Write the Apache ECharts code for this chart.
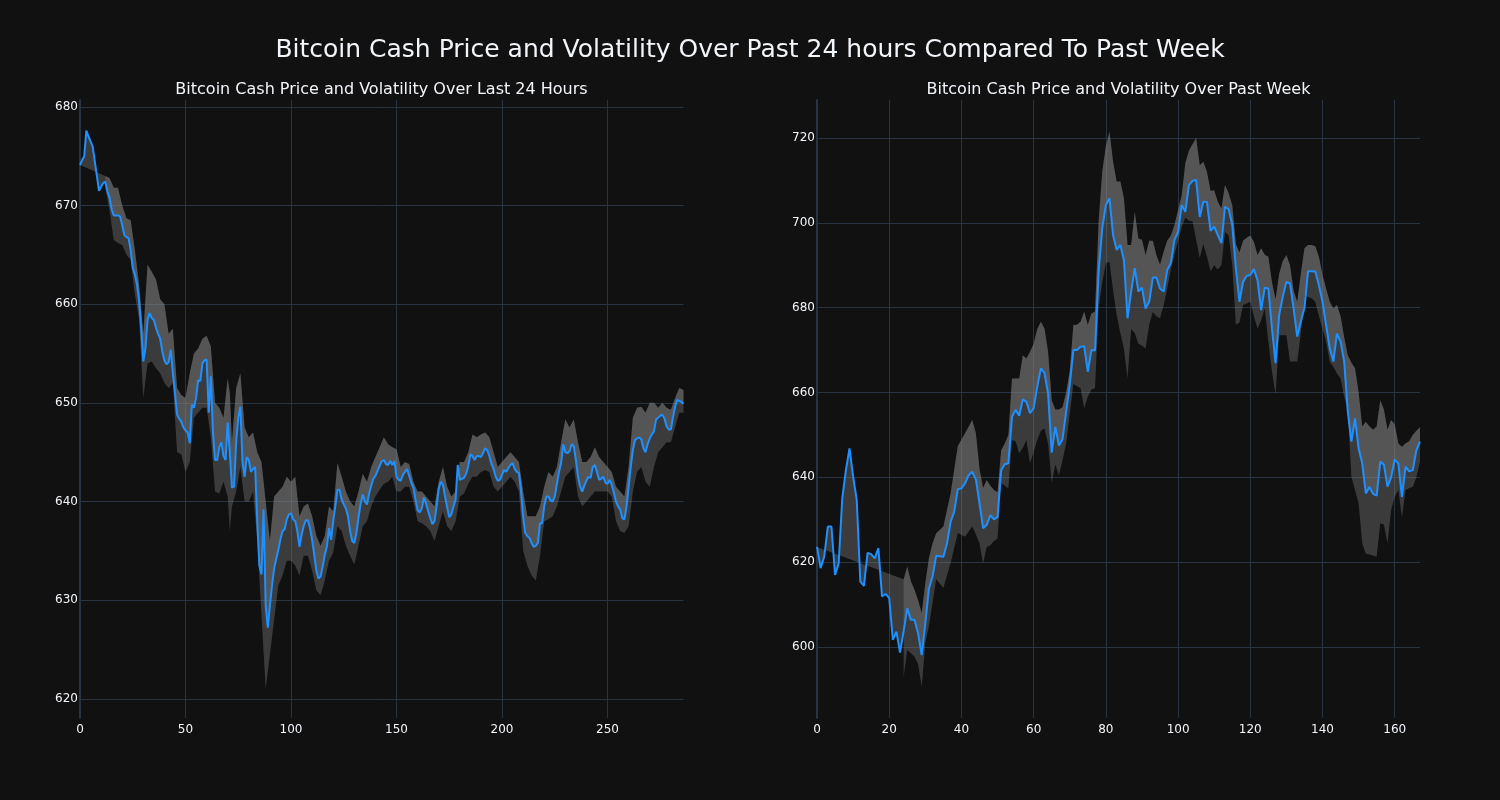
<!DOCTYPE html>
<html>
<head>
<meta charset="utf-8">
<script src="https://cdn.jsdelivr.net/npm/echarts@6/dist/echarts.min.js"></script>
<style>
html,body{margin:0;padding:0;background:#111111;}
#chart{width:1500px;height:800px;}
</style>
</head>
<body>
<div id="chart"></div>
<script>
// ---------- DATA ----------
const mainTitle = 'Bitcoin Cash Price and Volatility Over Past 24 hours Compared To Past Week';
const leftTitle = 'Bitcoin Cash Price and Volatility Over Last 24 Hours';
const rightTitle = 'Bitcoin Cash Price and Volatility Over Past Week';

// Last 24 hours: price at each step (x = 0..286)
const dayPrice = [
674.1,674.6,675.0,677.6,677.0,676.5,676.0,674.5,673.0,671.5,
671.9,672.3,672.4,671.4,670.8,669.6,669.0,669.0,669.0,668.9,
668.0,667.0,666.8,666.7,665.5,663.7,663.0,662.0,660.3,657.5,
654.2,655.5,658.4,659.1,658.6,658.4,657.6,657.0,656.5,655.2,
654.3,653.9,654.1,655.4,653.0,651.0,648.8,648.4,648.1,647.5,
647.2,647.0,645.9,649.8,649.5,650.5,652.3,652.2,654.0,654.3,
654.4,649.0,652.7,647.0,644.2,644.2,645.5,646.0,644.6,644.2,
648.0,645.0,641.4,641.5,646.0,648.5,649.6,644.0,642.5,644.5,
644.2,643.0,643.3,643.5,638.0,633.5,632.6,639.2,629.4,627.2,
629.5,631.5,633.2,634.2,635.1,636.2,637.0,637.2,638.2,638.7,
638.8,638.2,638.0,637.0,635.4,636.6,637.5,638.1,638.1,637.3,
636.1,634.6,633.0,632.2,632.4,633.4,634.6,635.4,637.3,636.1,
638.0,639.5,641.2,641.2,640.2,639.7,639.3,638.5,637.0,636.0,
635.8,636.8,638.4,639.8,640.7,640.0,639.7,640.8,641.6,642.3,
642.6,643.1,643.6,644.1,644.2,643.8,643.7,644.1,643.7,644.1,
642.5,642.2,642.1,642.7,643.0,643.3,642.6,641.9,641.4,640.2,
639.1,638.9,639.3,640.4,639.8,639.0,638.3,637.7,638.0,639.5,
641.3,642.0,641.7,640.5,639.4,638.4,638.7,639.5,640.2,643.7,
642.2,642.3,642.4,642.8,643.6,644.8,644.6,644.2,644.6,644.6,
644.5,644.9,645.4,645.2,644.6,643.8,643.3,642.5,642.1,642.2,
642.7,643.2,643.0,643.4,643.7,643.9,643.3,643.0,642.9,641.0,
638.5,636.8,636.5,636.3,635.8,635.4,635.5,635.8,637.8,637.8,
639.5,640.5,640.5,640.1,640.0,640.5,641.8,643.0,643.9,645.8,
645.0,644.9,645.1,645.8,645.6,644.2,642.5,641.5,641.0,641.6,
642.1,642.5,642.4,643.5,643.7,643.0,642.2,642.3,642.5,641.9,
641.8,642.2,641.7,640.9,640.0,639.5,639.2,638.3,638.2,639.5,
641.5,643.5,645.2,646.2,646.4,646.5,646.3,645.4,645.0,645.8,
646.4,646.8,647.1,648.3,648.5,648.7,648.8,648.4,647.6,647.3,
647.3,648.5,649.6,650.3,650.2,650.1,649.9
];
// Last 24 hours: volatility band, read at these x positions
const dayBandX = [12,14,16,18,20,22,24,26,28,30,32,34,36,38,40,42,44,46,48,50,52,54,56,58,60,62,64,66,68,70,71,72,74,76,78,80,82,84,86,88,90,92,94,96,98,100,102,104,106,108,110,112,114,116,118,120,122,124,126,128,130,132,134,136,138,140,142,144,146,148,150,152,154,156,158,160,162,164,166,168,170,172,174,176,178,180,182,184,186,188,190,192,194,196,198,200,202,204,206,208,210,212,214,216,218,220,222,224,226,228,230,232,234,236,238,240,242,244,246,248,250,252,254,256,258,260,262,264,266,268,270,272,274,276,278,280,282,284,286];
const dayBandUpper = [673.0,672.8,671.8,671.8,670.0,668.7,668.5,665.5,662.0,657.0,664.0,663.3,662.5,660.5,660.0,657.0,657.5,651.5,650.8,650.5,653.0,655.0,655.5,656.5,656.8,655.7,650.0,649.5,648.5,652.5,651.0,646.0,651.5,653.0,647.5,646.5,647.0,645.0,644.0,640.0,636.0,640.5,641.0,641.5,642.5,642.0,642.5,638.5,639.5,639.8,638.5,636.5,635.5,636.5,639.5,639.0,643.9,642.5,641.0,640.0,639.5,641.0,642.8,642.0,643.5,644.5,645.5,646.5,645.8,645.5,645.3,643.5,644.0,643.8,642.0,641.0,641.0,640.5,640.0,639.5,642.0,643.5,641.5,640.5,641.0,644.0,644.0,645.0,646.8,646.5,646.8,647.0,646.5,645.0,643.5,644.0,644.5,645.0,644.5,644.0,641.0,638.5,638.5,638.5,639.5,641.5,643.0,642.5,643.5,646.0,648.3,647.5,648.3,646.0,644.0,644.0,644.5,645.5,644.5,644.0,643.5,643.0,641.5,641.0,640.5,643.5,648.5,649.5,649.6,649.0,650.0,650.0,649.5,650.0,649.5,649.3,650.5,651.5,651.3];
const dayBandLower = [671.8,669.5,666.5,666.2,666.0,665.0,664.5,661.0,658.5,650.5,654.0,654.2,653.5,653.0,652.0,651.5,652.0,645.0,644.8,643.0,644.0,648.5,649.0,649.5,649.5,646.5,641.0,640.8,642.0,640.5,637.0,639.5,641.0,643.5,640.0,640.0,641.0,636.0,628.5,621.0,624.5,628.0,631.5,632.5,634.0,634.0,633.5,632.5,634.5,634.5,633.0,631.0,630.5,632.0,634.0,634.8,637.5,637.0,635.5,634.5,633.6,635.5,637.5,638.0,639.5,640.5,641.2,641.8,642.0,642.5,641.0,641.0,641.5,641.5,640.0,638.0,637.8,637.5,637.0,636.0,637.5,639.0,637.5,637.0,638.0,640.5,640.8,641.8,642.5,642.5,643.0,643.2,643.0,641.5,641.0,641.5,642.0,642.5,642.0,641.0,635.0,633.5,632.5,632.0,634.5,638.0,638.2,638.5,639.5,641.0,642.5,643.0,643.5,640.5,639.5,640.0,640.5,641.0,641.0,641.0,641.0,640.5,638.0,637.0,636.8,637.5,641.0,643.0,643.5,642.0,641.5,643.5,645.0,645.5,646.0,646.0,647.5,649.0,649.0];

// Past week: price at each step (x = 0..167)
const weekPrice = [
623.6,618.6,621.3,628.4,628.4,617.0,619.7,635.1,641.7,646.8,
640.2,634.7,615.4,614.4,622.2,621.9,620.9,623.3,611.9,612.5,
611.5,601.7,603.6,598.7,603.8,609.1,606.4,606.4,603.2,598.1,
605.6,613.8,616.6,621.5,621.4,621.3,624.4,629.5,631.9,637.2,
637.4,638.6,640.5,641.3,639.5,633.9,628.0,628.8,631.1,630.1,
630.6,641.7,643.1,643.3,654.3,655.9,654.5,658.4,657.8,655.1,
656.3,661.4,665.7,664.6,659.8,645.8,651.9,647.5,649.0,655.5,
661.8,670.0,670.0,670.8,670.9,664.9,670.0,669.9,688.5,698.7,
704.2,705.8,697.1,693.6,694.8,691.2,677.5,683.8,689.3,683.8,
684.7,679.8,681.4,687.1,687.1,684.5,683.8,688.9,690.5,696.0,
697.9,704.2,702.6,708.9,709.9,710.1,701.4,705.0,704.9,698.1,
699.1,697.1,695.2,703.8,703.2,699.5,689.3,681.4,686.1,687.5,
687.7,689.1,686.5,679.4,684.7,684.5,675.1,666.9,678.3,682.6,
686.1,685.7,679.8,673.2,676.7,680.0,688.6,688.6,688.5,685.3,
681.4,675.9,670.4,667.3,673.9,672.0,667.3,655.5,648.4,653.9,
646.8,643.3,636.2,637.7,636.1,635.7,643.7,643.0,637.8,640.0,
644.2,643.3,635.4,642.5,641.4,641.7,646.4,648.4
];
// Past week: volatility band
const weekBandX = [24,25,26,27,28,29,30,31,32,33,35,37,39,41,43,44,45,46,47,48,49,50,51,52,53,54,55,56,57,58,59,60,61,62,63,64,65,66,67,68,69,70,71,72,73,74,75,76,77,78,79,80,81,82,83,84,85,86,87,88,89,90,91,92,93,94,95,96,97,98,99,100,101,102,103,104,105,106,107,108,109,110,111,112,113,114,115,116,117,118,119,120,121,122,123,124,125,126,127,128,129,130,131,132,133,134,135,136,137,138,139,140,141,142,143,144,145,146,147,148,149,150,151,152,153,154,155,156,157,158,159,160,161,162,163,164,165,166,167];
const weekBandUpper = [616.0,619.0,615.5,613.5,611.0,608.0,615.0,621.0,624.4,626.8,628.4,636.2,647.4,650.4,653.5,650.4,642.0,637.5,639.4,638.0,637.0,636.5,646.4,648.0,650.0,663.3,663.3,663.3,668.8,668.0,669.6,671.5,675.0,676.7,675.1,669.6,658.2,656.0,656.0,656.5,660.0,665.0,675.9,676.0,676.7,679.1,675.9,678.6,679.1,700.3,712.1,718.0,721.5,714.4,709.7,709.8,705.8,694.8,694.8,702.6,696.3,696.0,692.4,695.8,695.8,692.4,690.1,693.2,695.8,697.0,699.5,703.0,706.5,714.0,717.0,718.5,720.0,713.6,714.4,712.0,707.5,707.7,705.0,703.4,708.9,707.0,704.2,695.0,693.0,695.8,696.5,697.0,695.5,692.4,694.0,692.5,692.0,686.0,682.0,688.0,691.0,692.4,690.0,684.0,681.4,688.0,694.0,694.8,694.8,694.5,692.0,687.7,684.5,681.4,679.8,680.6,678.0,673.0,668.8,667.0,665.7,660.0,652.0,653.1,652.0,651.2,652.0,658.2,656.0,651.2,653.5,652.5,648.0,647.2,648.0,648.5,650.0,651.0,651.8];
const weekBandLower = [593.0,599.3,598.5,597.7,596.0,590.6,601.0,605.0,610.4,616.0,613.9,619.8,626.9,626.0,628.4,626.5,624.4,619.7,623.6,624.0,625.0,625.6,638.6,638.0,637.4,648.8,648.5,645.7,647.0,648.8,643.3,646.0,648.8,651.0,651.5,648.0,638.7,643.0,640.5,644.0,648.0,655.0,662.0,661.5,661.0,656.3,659.0,660.7,661.0,680.0,686.0,690.5,690.8,684.0,678.3,674.0,670.4,663.3,675.0,674.0,671.5,671.0,670.4,676.0,679.0,678.0,677.5,680.5,684.5,689.0,692.5,695.8,699.0,701.2,700.5,700.4,696.0,691.7,695.0,692.0,688.5,690.0,689.0,690.0,697.8,697.0,690.0,676.0,676.5,680.6,681.0,681.4,678.0,675.1,677.0,679.8,672.0,665.0,659.4,673.5,673.5,673.5,667.3,667.3,667.3,674.0,683.0,682.5,682.2,681.4,678.0,675.1,672.0,667.3,666.0,664.5,663.3,659.0,655.5,640.2,637.0,633.9,624.4,622.0,621.8,621.6,621.3,629.2,628.9,624.4,632.3,635.4,637.0,630.6,637.0,637.4,637.8,640.0,643.7];

// ---------- STYLE ----------
const BG = '#111111';
const GRID = '#283442';
const TXT = '#f2f5fa';
const LINE = '#1E90FF';
const FILL = 'rgba(128,128,128,0.38)';
const FONT = 'DejaVu Sans';

function bandRenderer(price, bx, bu, bl) {
  return function (params, api) {
    const a = price.map((v, i) => api.coord([i, v]));
    for (let j = bx.length - 1; j >= 0; j--) a.push(api.coord([bx[j], bu[j]]));
    const b = bx.map((x, j) => api.coord([x, bl[j]]));
    for (let j = bx.length - 1; j >= 0; j--) b.push(api.coord([bx[j], bu[j]]));
    return {
      type: 'group',
      children: [
        { type: 'polygon', shape: { points: a }, style: { fill: FILL } },
        { type: 'polygon', shape: { points: b }, style: { fill: FILL } }
      ]
    };
  };
}

function xAxis(idx, max, interval) {
  return {
    type: 'value', gridIndex: idx, min: 0, max: max, interval: interval,
    axisLine: { show: false }, axisTick: { show: false },
    axisLabel: { color: TXT, fontSize: 12, fontFamily: FONT, margin: 6, showMaxLabel: false },
    splitLine: { show: true, showMinLine: false, showMaxLine: false, lineStyle: { color: GRID, width: 1 } }
  };
}
function yAxis(idx, min, max, interval) {
  return {
    type: 'value', gridIndex: idx, min: min, max: max, minInterval: interval, maxInterval: interval,
    axisLine: { show: true, onZero: false, lineStyle: { color: GRID, width: 2 } },
    axisTick: { show: false },
    axisLabel: { color: TXT, fontSize: 12, fontFamily: FONT, margin: 2, showMinLabel: false, showMaxLabel: false },
    splitLine: { show: true, showMinLine: false, showMaxLine: false, lineStyle: { color: GRID, width: 1 } }
  };
}

const chart = echarts.init(document.getElementById('chart'), null, { renderer: 'canvas' });
chart.setOption({
  backgroundColor: BG,
  animation: false,
  title: [
    { text: mainTitle, left: 750, top: 38, textAlign: 'center', padding: 0,
      textStyle: { color: TXT, fontSize: 25, fontWeight: 'normal', fontFamily: FONT } },
    { text: leftTitle, left: 381.5, top: 82, textAlign: 'center', padding: 0,
      textStyle: { color: TXT, fontSize: 16, fontWeight: 'normal', fontFamily: FONT } },
    { text: rightTitle, left: 1118.5, top: 82, textAlign: 'center', padding: 0,
      textStyle: { color: TXT, fontSize: 16, fontWeight: 'normal', fontFamily: FONT } }
  ],
  grid: [
    { left: 80, top: 100, width: 603.5, height: 618, containLabel: false },
    { left: 817, top: 100, width: 603, height: 618, containLabel: false }
  ],
  xAxis: [xAxis(0, 286, 50), xAxis(1, 167, 20)],
  yAxis: [yAxis(0, 618.05, 680.7, 10), yAxis(1, 583.26, 728.96, 20)],
  series: [
    { type: 'custom', xAxisIndex: 0, yAxisIndex: 0, silent: true, clip: true, z: 1,
      renderItem: bandRenderer(dayPrice, dayBandX, dayBandUpper, dayBandLower),
      data: [[0, dayPrice[0]]] },
    { type: 'line', xAxisIndex: 0, yAxisIndex: 0, z: 3, showSymbol: false, silent: true,
      data: dayPrice.map((v, i) => [i, v]),
      lineStyle: { color: LINE, width: 2 } },
    { type: 'custom', xAxisIndex: 1, yAxisIndex: 1, silent: true, clip: true, z: 1,
      renderItem: bandRenderer(weekPrice, weekBandX, weekBandUpper, weekBandLower),
      data: [[0, weekPrice[0]]] },
    { type: 'line', xAxisIndex: 1, yAxisIndex: 1, z: 3, showSymbol: false, silent: true,
      data: weekPrice.map((v, i) => [i, v]),
      lineStyle: { color: LINE, width: 2 } }
  ]
});
</script>
</body>
</html>
